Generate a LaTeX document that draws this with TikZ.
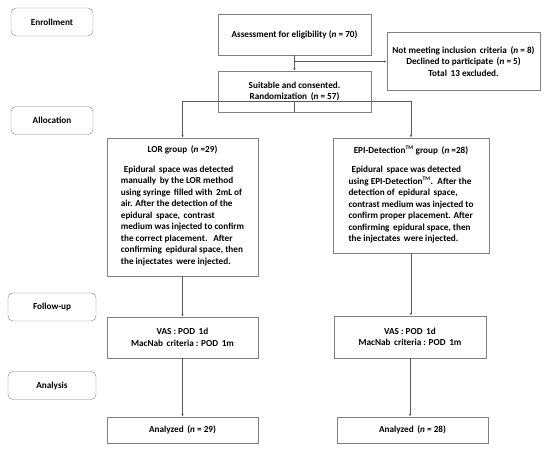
\documentclass[tikz,border=0pt]{standalone}
\usepackage{fontspec}
\setmainfont{Carlito}
\usepackage{tikz}
\usetikzlibrary{arrows.meta}

\definecolor{boxgray}{RGB}{128,128,128}
\definecolor{linegray}{RGB}{90,90,90}
\newcommand{\tmark}{\textsuperscript{\fontsize{5.5}{5.5}\selectfont TM}}

\begin{document}
\begin{tikzpicture}[
    x=1pt,y=-1pt,
    font={\fontsize{9.2}{11.5}\selectfont\bfseries},
    stage/.style={draw=boxgray,rounded corners=5pt,minimum width=82pt,
        minimum height=28pt,inner sep=0pt},
    box/.style={draw=boxgray,inner sep=0pt,align=center},
    arr/.style={-{Latex[length=3pt,width=2.4pt]},draw=linegray,line width=.6pt},
    ]
    \useasboundingbox (0,0) rectangle (550,453);
    % Stage labels
    \node[stage] (enroll)   at (52,22)    {Enrollment};
    \node[stage] (alloc)    at (52,120.5) {Allocation};
    \node[stage,minimum width=88pt] (follow)   at (52,307)   {Follow-up};
    \node[stage,minimum width=88pt] (analysis) at (52,385.5) {Analysis};

    % Enrollment
    \node[box,minimum width=153pt,minimum height=41pt] (assess) at (294.5,34.5)
        {Assessment for eligibility (\textit{n} = 70)};
    \node[box,minimum width=153pt,minimum height=41pt] (suitable) at (294.5,91.5)
        {Suitable and consented.\\ Randomization\, (\textit{n} = 57)};
    \node[box,minimum width=153pt,minimum height=58pt] (excl) at (463.5,61.5)
        {Not meeting inclusion\, criteria\, (\textit{n} = 8)\\
         Declined to participate\, (\textit{n} = 5)\\
         Total\, 13 excluded.};

    % Allocation
    \node[box,minimum width=151pt,minimum height=138pt] (lor) at (182.5,207)
        {LOR group\, (\textit{n} =29)\\[9pt]
         \begin{tabular}{@{}l@{}}
          \hspace*{3pt}Epidural\, space was detected\\
          manually\, by the LOR method\\
          using syringe\, filled with\, 2mL of\\
          air. After the detection of the\\
          epidural\, space,\, contrast\\
          medium was injected to confirm\\
          the correct placement.\,\, After\\
          confirming\, epidural space, then\\
          the injectates\, were injected.
         \end{tabular}};
    \node[box,minimum width=156pt,minimum height=115pt] (epi) at (411,195.5)
        {EPI-Detection\tmark{} group\, (\textit{n} =28)\\[9pt]
         \begin{tabular}{@{}l@{}}
          \hspace*{3pt}Epidural\, space was detected\\
          using EPI-Detection\tmark.\, After the\\
          detection of\, epidural\, space,\\
          contrast medium was injected to\\
          confirm proper placement. After\\
          confirming\, epidural space, then\\
          the injectates\, were injected.
         \end{tabular}};

    % Follow-up
    \node[box,minimum width=151pt,minimum height=41pt] (fupL) at (182.5,337.5)
        {VAS : POD\, 1d\\ MacNab\, criteria : POD\, 1m};
    \node[box,minimum width=152pt,minimum height=42pt] (fupR) at (410,337)
        {VAS : POD\, 1d\\ MacNab\, criteria : POD\, 1m};

    % Analysis
    \node[box,minimum width=151pt,minimum height=26pt] (anL) at (182.5,430)
        {Analyzed\, (\textit{n} = 29)};
    \node[box,minimum width=151pt,minimum height=26pt] (anR) at (412.5,430)
        {Analyzed\, (\textit{n} = 28)};

    % Connectors
    \draw[arr] (assess) -- (suitable);
    \draw[arr] (assess.south |- excl.west) -- (excl.west);
    \coordinate (split) at ([yshift=11pt]suitable.south);
    \draw[draw=linegray,line width=.6pt] (suitable.south) -- (split);
    \draw[arr] (split) -| (lor.north);
    \draw[arr] (split) -| (epi.north);
    \draw[arr] (lor) -- (fupL);
    \draw[arr] (epi.south) -- (epi.south |- fupR.north);
    \draw[arr] (fupL) -- (anL);
    \draw[arr] (fupR.south) -- (fupR.south |- anR.north);
\end{tikzpicture}
\end{document}
